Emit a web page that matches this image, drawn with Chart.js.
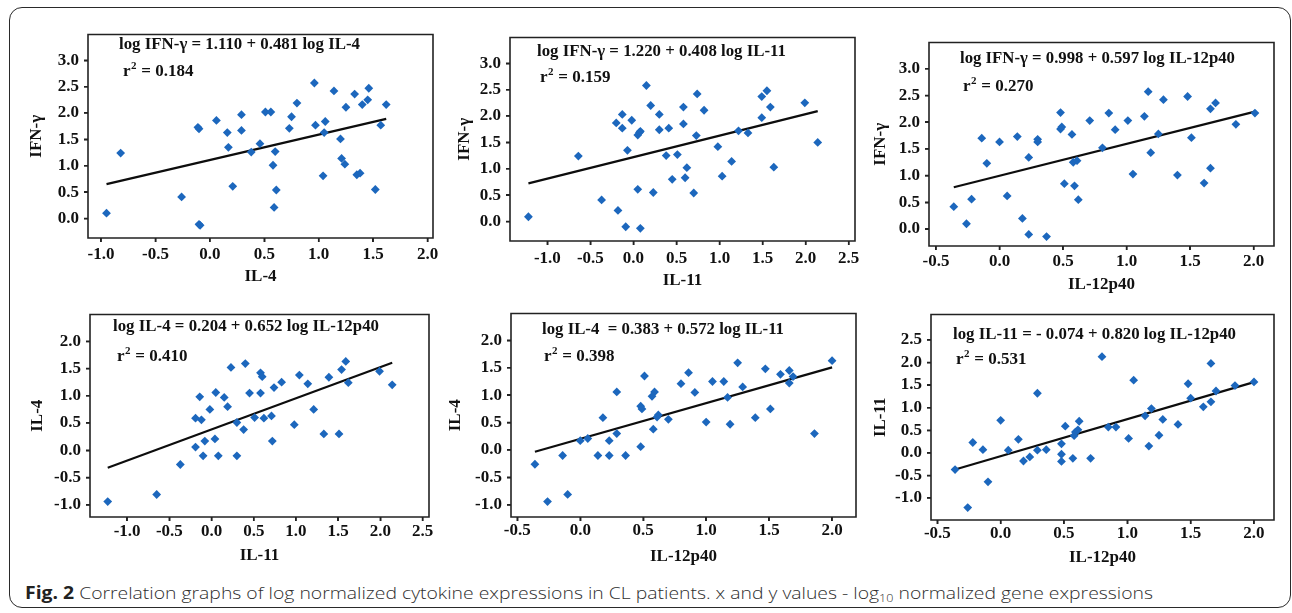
<!DOCTYPE html>
<html>
<head>
<meta charset="utf-8">
<script src="https://cdn.jsdelivr.net/npm/chart.js@4.4.1/dist/chart.umd.min.js"></script>
<style>
  html,body{margin:0;padding:0;background:#fff;}
  body{width:1292px;height:613px;position:relative;overflow:hidden;}
  #frame{position:absolute;left:9px;top:7px;width:1282px;height:601px;border:1.5px solid #2a2a2a;border-radius:13px;box-sizing:border-box;}
  canvas{position:absolute;}
  #caption{position:absolute;left:25px;top:581px;font-family:"Open Sans",sans-serif;font-weight:300;font-size:17px;color:#2e2e2e;white-space:nowrap;transform-origin:0 0;line-height:24px;}
  #caption b{font-weight:700;color:#222;}
  #caption sub{font-size:11px;vertical-align:-3px;line-height:0;}
</style>
</head>
<body>
<div id="frame"></div>
<canvas id="c1"></canvas>
<canvas id="c2"></canvas>
<canvas id="c3"></canvas>
<canvas id="c4"></canvas>
<canvas id="c5"></canvas>
<canvas id="c6"></canvas>
<div id="caption"><b>Fig. 2</b> Correlation graphs of log normalized cytokine expressions in CL patients. x and y values - log<sub>10</sub> normalized gene expressions</div>
<script>
// ---------------- DATA ----------------
// Panel 1: IL-4 (x) vs IFN-γ (y)
const p1X = [-0.95,-0.82,-0.26,-0.11,-0.10,-0.10,-0.09,0.06,0.16,0.17,0.21,0.29,0.29,0.38,0.46,0.51,0.56,0.58,0.60,0.59,0.61,0.73,0.75,0.80,0.96,0.97,1.05,1.06,1.04,1.14,1.20,1.21,1.24,1.25,1.33,1.35,1.38,1.40,1.45,1.46,1.52,1.57,1.62];
const p1Y = [0.10,1.24,0.41,1.73,1.70,-0.11,-0.13,1.86,1.63,1.35,0.61,1.97,1.67,1.26,1.42,2.02,2.02,1.01,1.27,0.21,0.54,1.71,1.93,2.19,2.57,1.77,1.63,1.84,0.81,2.42,1.51,1.14,1.03,2.11,2.36,0.83,0.86,2.16,2.25,2.47,0.55,1.77,2.16];
// Panel 2: IL-11 (x) vs IFN-γ (y)
const p2X = [-1.22,-0.64,-0.37,-0.20,-0.18,-0.13,-0.13,-0.09,-0.07,-0.02,0.05,0.05,0.07,0.08,0.08,0.15,0.20,0.23,0.30,0.30,0.38,0.41,0.45,0.51,0.58,0.58,0.60,0.62,0.70,0.73,0.74,0.82,0.98,1.03,1.14,1.22,1.33,1.49,1.49,1.55,1.59,1.63,1.99,2.14];
const p2Y = [0.09,1.24,0.41,1.87,0.21,1.77,2.03,-0.10,1.35,1.92,0.61,1.64,1.69,1.71,-0.13,2.58,2.20,0.55,2.03,1.74,1.25,1.77,0.80,1.27,2.17,1.85,0.83,1.02,0.54,1.63,2.42,2.11,1.42,0.86,1.14,1.72,1.68,1.97,2.37,2.48,2.17,1.03,2.25,1.50];
// Panel 3: IL-12p40 (x) vs IFN-γ (y)
const p3X = [-0.36,-0.26,-0.22,-0.14,-0.10,0.00,0.06,0.14,0.18,0.23,0.23,0.30,0.30,0.37,0.48,0.48,0.49,0.51,0.57,0.58,0.59,0.61,0.62,0.71,0.81,0.86,0.91,1.01,1.05,1.14,1.17,1.19,1.25,1.29,1.40,1.48,1.51,1.61,1.66,1.66,1.70,1.86,2.01];
const p3Y = [0.42,0.10,0.56,1.70,1.23,1.63,0.62,1.73,0.20,1.34,-0.10,1.68,1.63,-0.14,2.18,1.87,1.91,0.85,1.77,1.25,0.81,1.28,0.55,2.03,1.52,2.17,1.86,2.03,1.03,2.11,2.57,1.43,1.78,2.42,1.01,2.48,1.71,0.86,2.25,1.14,2.36,1.96,2.17];
// Panel 4: IL-11 (x) vs IL-4 (y)
const p4X = [-1.23,-0.65,-0.37,-0.19,-0.19,-0.14,-0.12,-0.10,-0.08,-0.02,0.04,0.05,0.08,0.15,0.19,0.23,0.30,0.30,0.38,0.40,0.45,0.51,0.58,0.58,0.60,0.62,0.71,0.72,0.74,0.83,0.98,1.04,1.14,1.21,1.33,1.39,1.51,1.54,1.59,1.62,1.99,2.14];
const p4Y = [-0.94,-0.81,-0.26,0.06,0.59,0.98,0.56,-0.10,0.17,0.75,0.21,1.06,-0.10,0.97,0.80,1.52,-0.10,0.51,0.38,1.59,1.05,0.60,1.05,1.42,1.35,0.59,0.63,0.17,1.15,1.25,0.47,1.38,1.22,0.75,0.30,1.34,0.30,1.48,1.63,1.24,1.45,1.20];
// Panel 5: IL-12p40 (x) vs IL-4 (y)
const p5X = [-0.36,-0.26,-0.14,-0.10,0.00,0.06,0.14,0.18,0.23,0.23,0.29,0.29,0.36,0.48,0.48,0.49,0.51,0.57,0.58,0.59,0.61,0.62,0.70,0.80,0.86,0.91,1.00,1.05,1.14,1.17,1.19,1.25,1.29,1.39,1.47,1.51,1.59,1.66,1.66,1.69,1.86,2.00];
const p5Y = [-0.26,-0.94,-0.10,-0.81,0.17,0.21,-0.10,0.59,0.17,-0.10,1.06,0.30,-0.10,0.06,0.80,0.75,1.35,0.98,0.38,1.06,0.60,0.64,0.56,1.21,1.41,1.05,0.51,1.25,1.25,0.96,0.47,1.59,1.15,0.59,1.48,0.75,1.38,1.45,1.22,1.34,0.30,1.63];
// Panel 6: IL-12p40 (x) vs IL-11 (y)
const p6X = [-0.36,-0.26,-0.22,-0.14,-0.10,0.00,0.06,0.14,0.18,0.23,0.29,0.29,0.36,0.48,0.48,0.48,0.51,0.57,0.58,0.59,0.61,0.62,0.71,0.80,0.85,0.91,1.01,1.05,1.14,1.17,1.19,1.25,1.28,1.40,1.48,1.50,1.60,1.66,1.66,1.70,1.85,2.00];
const p6Y = [-0.37,-1.21,0.23,0.07,-0.64,0.72,0.06,0.30,-0.18,-0.09,1.32,0.06,0.07,0.20,-0.03,-0.19,0.59,-0.12,0.38,0.46,0.51,0.70,-0.12,2.13,0.57,0.57,0.32,1.61,0.82,0.15,0.98,0.39,0.74,0.63,1.53,1.21,1.02,1.98,1.13,1.37,1.49,1.57];

// Regression coefficients (intercept, slope) of the drawn fit lines
const fit1 = [1.110, 0.481];
const fit2 = [1.220, 0.408];
const fit3 = [0.998, 0.597];
const fit4 = [0.383, 0.572];
const fit5 = [0.204, 0.652];
const fit6 = [-0.074, 0.820];

// Tick labels
const ticksX_IL4   = [-1.0,-0.5,0.0,0.5,1.0,1.5,2.0];
const ticksX_IL11  = [-1.0,-0.5,0.0,0.5,1.0,1.5,2.0,2.5];
const ticksX_IL12  = [-0.5,0.0,0.5,1.0,1.5,2.0];
const ticksY_IFN   = [0.0,0.5,1.0,1.5,2.0,2.5,3.0];
const ticksY_IL4   = [-1.0,-0.5,0.0,0.5,1.0,1.5,2.0];
const ticksY_IL11  = [-1.0,-0.5,0.0,0.5,1.0,1.5,2.0,2.5];

// Texts
const eqTexts = [
  "log IFN-γ = 1.110 + 0.481 log IL-4",
  "log IFN-γ = 1.220 + 0.408 log IL-11",
  "log IFN-γ = 0.998 + 0.597 log IL-12p40",
  "log IL-4 = 0.204 + 0.652 log IL-12p40",
  "log IL-4  = 0.383 + 0.572 log IL-11",
  "log IL-11 = - 0.074 + 0.820 log IL-12p40"
];
const r2Texts = ["0.184","0.159","0.270","0.410","0.398","0.531"];
const xTitles = ["IL-4","IL-11","IL-12p40","IL-11","IL-12p40","IL-12p40"];
const yTitles = ["IFN-γ","IFN-γ","IFN-γ","IL-4","IL-4","IL-11"];

// ---------------- LAYOUT ----------------
const panels = [
  {id:'c1', x:p1X, y:p1Y, fit:fit1, tx:ticksX_IL4,  ty:ticksY_IFN,  xr:[-1.12,2.05],  yr:[-0.37,3.49],  box:[88,25,433,238],  yTO:51.7, xLO:16.3, xTO:38.3, eq:[119,45,241], r2:[123,72]},
  {id:'c2', x:p2X, y:p2Y, fit:fit2, tx:ticksX_IL11, ty:ticksY_IFN,  xr:[-1.434,2.573],yr:[-0.37,3.49],  box:[510,28,855,241], yTO:45,   xLO:17.6, xTO:39.3, eq:[537,52,249], r2:[540,78]},
  {id:'c3', x:p3X, y:p3Y, fit:fit3, tx:ticksX_IL12, ty:ticksY_IFN,  xr:[-0.555,2.16], yr:[-0.316,3.49], box:[929,33,1274,246],yTO:48.6, xLO:15.7, xTO:39,   eq:[960,59,275], r2:[963,87]},
  {id:'c4', x:p4X, y:p4Y, fit:fit4, tx:ticksX_IL11, ty:ticksY_IL4,  xr:[-1.44,2.576], yr:[-1.222,2.49], box:[90,305,429,517], yTO:52,   xLO:15,   xTO:38.3, eq:[113,327,266],r2:[117,357]},
  {id:'c5', x:p5X, y:p5Y, fit:fit5, tx:ticksX_IL12, ty:ticksY_IL4,  xr:[-0.55,2.19],  yr:[-1.222,2.49], box:[511,304,856,517],yTO:55,   xLO:13.3, xTO:39.3, eq:[542,330,242],r2:[544,357]},
  {id:'c6', x:p6X, y:p6Y, fit:fit6, tx:ticksX_IL12, ty:ticksY_IL11, xr:[-0.55,2.158], yr:[-1.486,3.063],box:[931,305,1274,520],yTO:50.7, xLO:13.3, xTO:37.7, eq:[953,335,283],r2:[956,360]}
];

const SERIF = '"Liberation Serif","Times New Roman",serif';
Chart.defaults.font.family = SERIF;
Chart.defaults.color = '#1a1a1a';

const WY = 75, HX = 60, PT = 4, PR = 22;
const POINT_COLOR = '#1c67bd';
const INK = '#222';

panels.forEach((p, i) => {
  const cv = document.getElementById(p.id);
  const [L,T,R,B] = p.box;
  const left = L - WY, top = T - PT;
  const w = (R - L) + WY + PR, h = (B - T) + PT + HX;
  cv.style.left = left + 'px'; cv.style.top = top + 'px';
  cv.width = w; cv.height = h;
  cv.style.width = w + 'px'; cv.style.height = h + 'px';

  const pts = p.x.map((v, k) => ({x: v, y: p.y[k]}));
  const xmin = Math.min(...p.x), xmax = Math.max(...p.x);
  const linePts = [xmin, xmax].map(v => ({x: v, y: p.fit[0] + p.fit[1] * v}));

  const overlay = {
    id: 'overlay' + i,
    afterDatasetsDraw(chart) {
      const ctx = chart.ctx;
      const a = chart.chartArea;
      const xs = chart.scales.x, ys = chart.scales.y;
      ctx.save();
      ctx.globalAlpha = 1;
      ctx.globalCompositeOperation = 'source-over';
      ctx.setLineDash([]);
      ctx.strokeStyle = INK;
      ctx.lineWidth = 1.6;
      ctx.beginPath();
      ctx.rect(a.left, a.top, a.right - a.left, a.bottom - a.top);
      xs.ticks.forEach(t => {
        const px = xs.getPixelForValue(t.value);
        ctx.moveTo(px, a.bottom);
        ctx.lineTo(px, a.bottom + 4);
      });
      ys.ticks.forEach(t => {
        const py = ys.getPixelForValue(t.value);
        ctx.moveTo(a.left, py);
        ctx.lineTo(a.left - 4, py);
      });
      ctx.stroke();
      ctx.restore();
    },
    afterDraw(chart) {
      const ctx = chart.ctx;
      ctx.save();
      ctx.globalAlpha = 1;
      ctx.fillStyle = '#111';
      ctx.textBaseline = 'middle';
      ctx.textAlign = 'left';
      ctx.font = 'bold 17px ' + SERIF;
      const ex = p.eq[0] - left, ey = p.eq[1] - top;
      const mw = ctx.measureText(eqTexts[i]).width;
      ctx.save();
      ctx.translate(ex, ey);
      ctx.scale(p.eq[2] / mw, 1);
      ctx.fillText(eqTexts[i], 0, 0);
      ctx.restore();
      let rx = p.r2[0] - left, ry = p.r2[1] - top;
      ctx.font = 'bold 17px ' + SERIF;
      ctx.fillText('r', rx, ry);
      rx += ctx.measureText('r').width;
      ctx.font = 'bold 11px ' + SERIF;
      ctx.fillText('2', rx + 0.5, ry - 6);
      rx += ctx.measureText('2').width + 1;
      ctx.font = 'bold 17px ' + SERIF;
      ctx.fillText(' = ' + r2Texts[i], rx, ry);
      ctx.restore();
    }
  };

  new Chart(cv, {
    type: 'scatter',
    data: {
      datasets: [
        {data: pts, pointStyle: 'rectRot', pointRadius: 4.4, backgroundColor: POINT_COLOR, borderWidth: 0, order: 0},
        {data: linePts, showLine: true, borderColor: '#0d0d0d', borderWidth: 2.2, pointRadius: 0, order: 1}
      ]
    },
    options: {
      responsive: false,
      animation: false,
      devicePixelRatio: 1,
      layout: {padding: {left: 0, top: PT, right: PR, bottom: 0}},
      plugins: {legend: {display: false}, tooltip: {enabled: false}},
      scales: {
        x: {
          type: 'linear', min: p.xr[0], max: p.xr[1],
          afterBuildTicks: s => { s.ticks = p.tx.map(v => ({value: v})); },
          afterFit: s => { s.height = HX; },
          border: {display: false},
          grid: {display: true, drawOnChartArea: false, drawTicks: true, tickLength: 4, color: INK, tickColor: INK, lineWidth: 1.4},
          ticks: {autoSkip: false, maxRotation: 0, includeBounds: false, padding: p.xLO - 4 - 8.5,
                  font: {size: 17, weight: 'bold', lineHeight: 1.0}, color: '#111',
                  callback: v => Number(v).toFixed(1)},
          title: {display: true, text: xTitles[i], color: '#111',
                  font: {size: 17, weight: 'bold', lineHeight: 1.2},
                  padding: {top: 0, bottom: HX - 10.2 - p.xTO}}
        },
        y: {
          type: 'linear', min: p.yr[0], max: p.yr[1],
          afterBuildTicks: s => { s.ticks = p.ty.map(v => ({value: v})); },
          afterFit: s => { s.width = WY; },
          border: {display: false},
          grid: {display: true, drawOnChartArea: false, drawTicks: true, tickLength: 4, color: INK, tickColor: INK, lineWidth: 1.4},
          ticks: {autoSkip: false, includeBounds: false, padding: 5,
                  font: {size: 17, weight: 'bold', lineHeight: 1.0}, color: '#111',
                  callback: v => Number(v).toFixed(1)},
          title: {display: true, text: yTitles[i], color: '#111',
                  font: {size: 17, weight: 'bold', lineHeight: 1.2},
                  padding: {top: WY - p.yTO - 10.2, bottom: 0}}
        }
      }
    },
    plugins: [overlay]
  });
});

// caption fit
(function(){
  const cap = document.getElementById('caption');
  const target = 1128;
  const wcap = cap.getBoundingClientRect().width;
  if (wcap > 0) cap.style.transform = 'scaleX(' + (target / wcap) + ')';
})();
</script>
</body>
</html>
